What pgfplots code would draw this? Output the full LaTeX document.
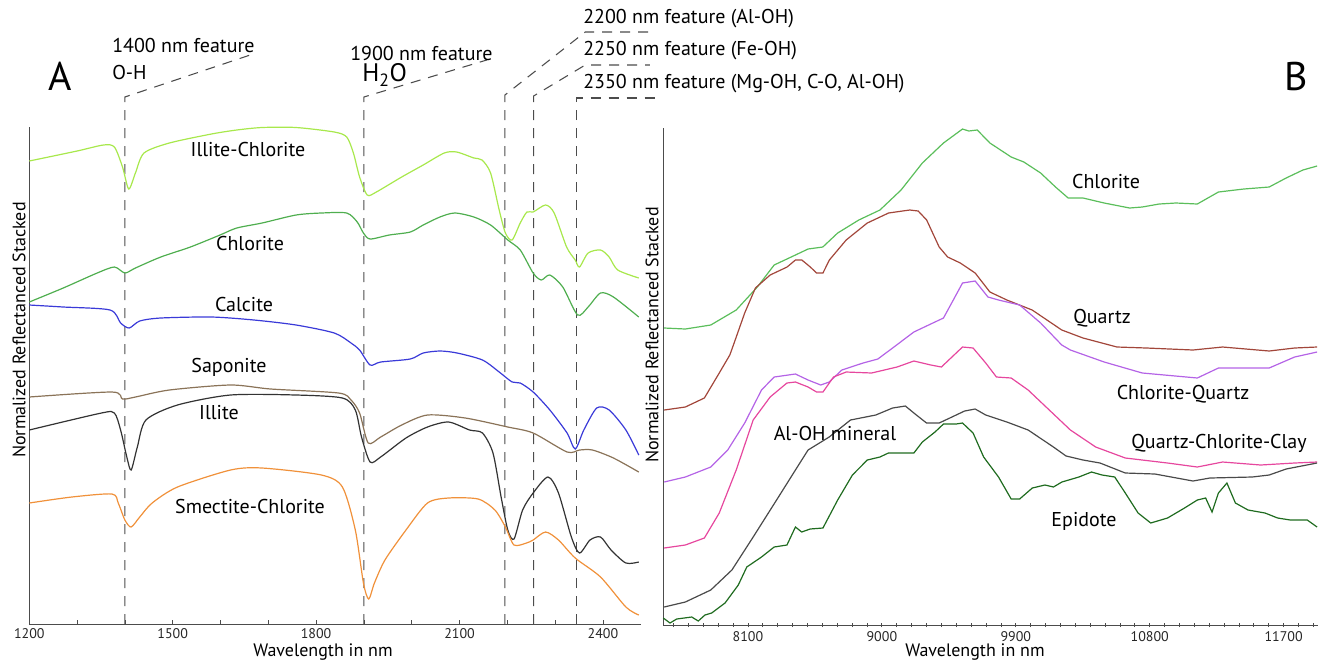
\documentclass[border=0pt]{standalone}
\usepackage{pgfplots}
\pgfplotsset{compat=1.18}
\usepackage{fontspec}
\setmainfont{PT Sans}
\definecolor{ilchl}{HTML}{A8E84C}
\definecolor{chlL}{HTML}{4FAE4F}
\definecolor{calc}{HTML}{3A3AD8}
\definecolor{sapo}{HTML}{8A7358}
\definecolor{illi}{HTML}{333333}
\definecolor{smec}{HTML}{F0913A}
\definecolor{chlR}{HTML}{5BBE5B}
\definecolor{qtz}{HTML}{A2463A}
\definecolor{chqz}{HTML}{B463E6}
\definecolor{qcc}{HTML}{E6479E}
\definecolor{aloh}{HTML}{4A4A4A}
\definecolor{epi}{HTML}{1F6B1F}
\pgfplotsset{spec/.style={scale only axis, height=372.75pt,
  axis x line*=bottom, axis y line*=left,
  axis line style={black!70, line width=0.75pt, -},
  ytick=\empty, clip=false, scaled x ticks=false,
  y filter/.expression={662-y},
  major tick length=3pt, minor tick length=3pt,
  every tick/.style={black!70, line width=0.6pt},
  xticklabel style={font=\fontsize{10.5}{12}\selectfont, text=black!85},
  every axis plot/.append style={line width=0.9pt, mark=none}},
  fl/.style={dash pattern=on 7.5pt off 6pt, black!70, line width=0.8pt}}
\begin{document}
\begin{tikzpicture}[x=0.75pt,y=-0.75pt]
\path (0,0) rectangle (1321,662);
% ---------------- A ----------------
\begin{axis}[spec, at={(21.975pt,-468pt)}, anchor=south west, width=458.9pt,
  xmin=1200, xmax=2480, ymin=38, ymax=535,
  xtick={1200,1500,1800,2100,2400}, xticklabels={1200,1500,1800,2100,2400},
  minor xtick={1300,1400,1600,1700,1900,2000,2200,2300}, tick align=inside]
\addplot[fl] coordinates {(1400,624) (1400,97) (1662,55)};
\addplot[fl] coordinates {(1900,624) (1900,97) (2157,60)};
\addplot[fl] coordinates {(2195,624) (2195,95) (2363,32) (2498,32)};
\addplot[fl] coordinates {(2255,624) (2255,96) (2363,65) (2498,65)};
\addplot[fl] coordinates {(2345,624) (2345,98) (2519,98)};
\addplot[ilchl, smooth, tension=0.45] coordinates {(1200,161) (1300,151) (1355,145) (1378,147) (1395,167) (1408,189) (1422,173) (1440,153) (1493,143) (1581,134) (1634,130) (1687,127.5) (1758,127.5) (1838,132) (1864,137) (1878,153) (1891,177) (1907,195) (1926,192) (1979,177) (2024,165) (2068,153) (2094,152) (2130,158) (2147,160) (2165,173) (2183,210) (2196,233) (2210,240) (2227,223) (2241,212) (2254,212) (2280,205) (2298,213) (2324,247) (2342,260) (2351,267) (2369,253) (2395,250) (2413,257) (2431,270) (2475,278)};
\addplot[chlL, smooth, tension=0.45] coordinates {(1200,302) (1271,288) (1342,273) (1378,267) (1400,273) (1422,268) (1475,257) (1537,247) (1599,235) (1634,228) (1687,223) (1758,215) (1811,213) (1864,213) (1886,222) (1899,233) (1913,239) (1953,235) (1997,232) (2024,225) (2059,217) (2090,213) (2130,217) (2165,225) (2201,240) (2227,250) (2254,273) (2271,280) (2289,275) (2316,287) (2347,315) (2369,307) (2395,293) (2422,297) (2475,317)};
\addplot[calc, smooth, tension=0.45] coordinates {(1200,305) (1271,307) (1369,310) (1391,323) (1409,328) (1431,321) (1475,318) (1581,317) (1670,320) (1758,325) (1838,333) (1873,343) (1891,350) (1913,365) (1935,362) (1997,359) (2024,353) (2059,351) (2095,353) (2148,360) (2183,372) (2210,382) (2227,383) (2254,392) (2289,410) (2325,433) (2342,449) (2360,430) (2387,408) (2413,410) (2448,430) (2475,455)};
\addplot[sapo, smooth, tension=0.45] coordinates {(1200,397) (1373,392) (1395,399) (1422,397) (1493,390) (1621,385) (1705,389) (1847,393) (1873,400) (1891,413) (1909,443) (1935,437) (1979,425) (2033,415) (2112,418) (2201,427) (2254,433) (2325,452) (2351,450) (2378,450) (2422,458) (2475,472)};
\addplot[illi, smooth, tension=0.45] coordinates {(1200,430) (1351,413) (1378,413) (1391,430) (1404,457) (1413,470) (1426,447) (1444,420) (1510,405) (1621,395) (1758,395) (1855,398) (1882,410) (1895,437) (1913,462) (1935,457) (1988,438) (2033,427) (2077,422) (2121,430) (2148,433) (2170,453) (2187,497) (2201,530) (2214,539) (2232,510) (2254,493) (2285,477) (2307,493) (2334,537) (2351,553) (2373,540) (2395,537) (2417,550) (2448,563) (2475,562)};
\addplot[smec, smooth, tension=0.45] coordinates {(1200,503) (1289,497) (1373,494) (1386,503) (1400,520) (1413,527) (1431,517) (1457,503) (1510,487) (1621,470) (1687,468) (1811,475) (1855,487) (1882,530) (1899,583) (1910,599) (1922,583) (1944,560) (1988,530) (2033,503) (2077,498) (2139,499) (2174,510) (2196,527) (2214,545) (2240,543) (2254,540) (2280,532) (2307,540) (2342,558) (2395,577) (2448,607) (2475,615)};
\end{axis}
% ---------------- B ----------------
\begin{axis}[spec, at={(497.475pt,-468.75pt)}, anchor=south west, width=491pt,
  xmin=7531, xmax=11931, ymin=37, ymax=534,
  xtick={8100,9000,9900,10800,11700}, xticklabels={8100,9000,9900,10800,11700},
  minor xtick={7600,7700,...,11900}, tick align=center]
\addplot[chlR] coordinates {(7537,328) (7679,329) (7850,325) (8021,310) (8163,287) (8276,265) (8419,255) (8504,249) (8603,247) (8703,233) (8845,220) (8987,210) (9129,190) (9272,163) (9414,143) (9542,129) (9584,131) (9641,130) (9726,143) (9869,157) (9954,162) (10067,173) (10167,187) (10252,198) (10352,198) (10494,203) (10665,208) (10750,207) (10864,204) (10977,203) (11120,204) (11262,192) (11433,189) (11603,187) (11717,178) (11830,170) (11925,166)};
\addplot[qtz] coordinates {(7537,410) (7679,407) (7807,398) (7907,373) (7978,355) (8007,343) (8078,313) (8150,288) (8249,275) (8363,267) (8419,260) (8462,260) (8519,267) (8561,273) (8604,273) (8647,260) (8760,240) (8902,223) (9045,213) (9187,210) (9244,211) (9301,220) (9385,247) (9442,257) (9527,263) (9627,273) (9726,292) (9840,300) (10010,310) (10209,330) (10352,338) (10580,347) (10778,348) (11091,350) (11290,347) (11603,351) (11774,348) (11925,347)};
\addplot[chqz] coordinates {(7537,482) (7679,477) (7850,467) (7964,450) (8078,423) (8191,390) (8276,377) (8419,374) (8504,380) (8589,385) (8646,382) (8731,370) (8874,363) (8973,359) (9072,348) (9215,332) (9300,326) (9414,318) (9480,300) (9542,283) (9627,281) (9713,297) (9784,300) (9926,305) (10067,323) (10209,345) (10267,350) (10494,362) (10750,373) (11120,378) (11262,368) (11603,368) (11774,357) (11925,352)};
\addplot[qcc] coordinates {(7537,548) (7679,545) (7807,538) (7907,513) (8021,470) (8135,420) (8249,397) (8362,383) (8419,382) (8504,387) (8561,392) (8604,392) (8675,377) (8760,372) (8931,373) (9102,367) (9215,361) (9329,365) (9400,367) (9471,357) (9542,347) (9613,348) (9698,363) (9770,377) (9869,378) (9983,390) (10125,410) (10267,430) (10437,447) (10636,458) (10920,463) (11120,467) (11290,462) (11546,465) (11774,463) (11925,462)};
\addplot[aloh] coordinates {(7537,607) (7679,602) (7850,590) (7992,570) (8135,537) (8305,497) (8419,470) (8504,450) (8646,437) (8789,420) (8959,415) (9072,408) (9158,406) (9215,413) (9300,423) (9385,423) (9471,417) (9556,411) (9627,409) (9698,415) (9840,422) (9983,430) (10153,447) (10238,456) (10352,460) (10466,463) (10636,473) (10835,474) (11091,481) (11205,478) (11489,477) (11603,475) (11717,469) (11925,463)};
\addplot[epi] coordinates {(7531,618) (7576,623) (7621,619) (7722,617) (7766,621) (7811,615) (7856,613) (7946,603) (8035,585) (8092,567) (8191,557) (8276,547) (8362,545) (8419,527) (8461,532) (8518,529) (8604,528) (8703,500) (8802,475) (8902,460) (8987,457) (9044,453) (9215,453) (9272,442) (9357,432) (9414,424) (9499,424) (9542,423) (9613,433) (9684,457) (9784,477) (9869,499) (9926,499) (10011,488) (10096,485) (10153,487) (10210,482) (10324,477) (10409,472) (10480,475) (10565,477) (10636,493) (10722,513) (10807,523) (10920,518) (11034,508) (11120,500) (11176,498) (11219,512) (11262,493) (11319,483) (11376,503) (11461,510) (11575,513) (11660,518) (11745,520) (11859,520) (11925,527)};
\end{axis}
% ---------------- texts ----------------
\begin{scope}[every node/.style={inner sep=0pt, text=black}]
\node[font=\fontsize{30}{32}\selectfont] at (60,76) {A};
\node[font=\fontsize{30}{32}\selectfont] at (1296,76) {B};
\begin{scope}[font=\fontsize{15}{17}\selectfont]
\node[anchor=west] at (112,45) {1400 nm feature};
\node[anchor=west] at (112,72) {O-H};
\node[anchor=west] at (350,53) {1900 nm feature};
\node[anchor=west] at (583,19) {2200 nm feature (Al-OH)};
\node[anchor=west] at (583,51) {2250 nm feature (Fe-OH)};
\node[anchor=west] at (583,84) {2350 nm feature (Mg-OH, C-O, Al-OH)};
\node at (248,149) {Illite-Chlorite};
\node at (250,243) {Chlorite};
\node at (244,304) {Calcite};
\node at (229,367) {Saponite};
\node at (219,413) {Illite};
\node at (250,506) {Smectite-Chlorite};
\node at (1106,181) {Chlorite};
\node at (1102,318) {Quartz};
\node at (1183,394) {Chlorite-Quartz};
\node at (1219,443) {Quartz-Chlorite-Clay};
\node at (835,433) {Al-OH mineral};
\node at (1084,521) {Epidote};
\end{scope}
\node[anchor=west, font=\fontsize{19}{21}\selectfont] at (362,75) {H\textsubscript{2}O};
\begin{scope}[font=\fontsize{13.5}{15}\selectfont]
\node at (323,652) {Wavelength in nm};
\node at (975,652) {Wavelength in nm};
\node[rotate=90] at (19,330) {Normalized Reflectanced Stacked};
\node[rotate=90] at (652,335) {Normalized Reflectanced Stacked};
\end{scope}
\end{scope}
\end{tikzpicture}
\end{document}
